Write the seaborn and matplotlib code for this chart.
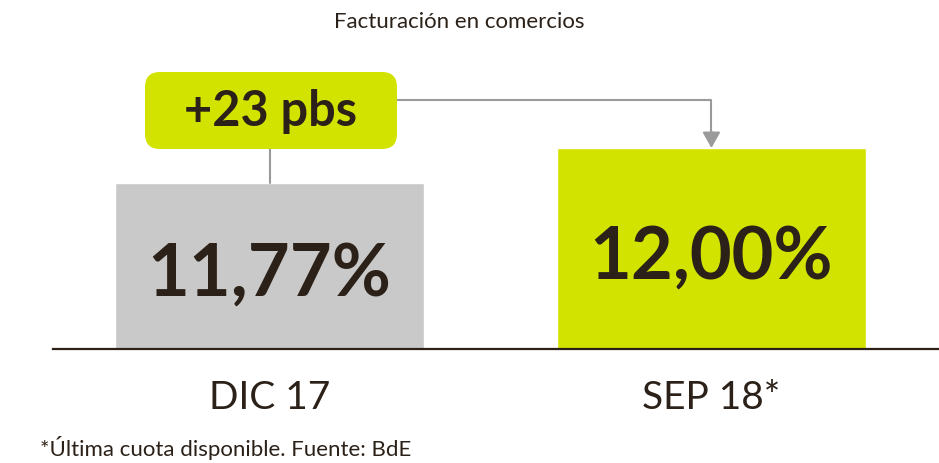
import matplotlib
matplotlib.use("Agg")
import matplotlib.pyplot as plt
import seaborn as sns
from matplotlib.patches import FancyBboxPatch

categories = ["DIC 17", "SEP 18*"]
values = [11.77, 12.00]
value_labels = ["11,77%", "12,00%"]
diff_label = "+23 pbs"
title = "Facturación en comercios"
footnote = "*Última cuota disponible. Fuente: BdE"

GRAY = "#c9c9c9"
LIME = "#d3e300"
DARK = "#2b2118"
LINE = "#9a9a9a"

sns.set_theme(style="white")
plt.rcParams["font.family"] = ["Lato", "DejaVu Sans"]

W, H = 939, 463
fig = plt.figure(figsize=(W / 100, H / 100), dpi=100)
ax = fig.add_axes([53 / W, (H - 349) / H, (W - 53) / W, 349 / H])

sns.barplot(x=categories, y=values, hue=categories, palette=[GRAY, LIME],
            width=0.7, ax=ax, legend=False, saturation=1)

ax.set_xlim(-0.49, 1.515)
ax.set_ylim(10.679, 12.973)
ax.set_yticks([])
ax.set_ylabel("")
ax.set_xlabel("")
for s in ["top", "right", "left"]:
    ax.spines[s].set_visible(False)
ax.spines["bottom"].set_color(DARK)
ax.spines["bottom"].set_linewidth(1.6)
ax.tick_params(axis="x", length=0, pad=22, labelsize=28, labelcolor=DARK)

# value labels
ymin = ax.get_ylim()[0]
for i, (v, lab) in enumerate(zip(values, value_labels)):
    ax.text(i, (v + ymin) / 2 - 0.06, lab, ha="center", va="center",
            fontsize=52, fontweight="bold", color=DARK)

# difference box (pixel layout -> data)
def py2d(py):
    return ymin + (349 - py) / 152.17

box_x1 = 0.285
box_y0 = py2d(149)
fig.patches.append(FancyBboxPatch((145 / 100, (H - 149) / 100), 2.52, 0.77,
                                  boxstyle="round,pad=0,rounding_size=0.15",
                                  transform=fig.dpi_scale_trans,
                                  facecolor=LIME, edgecolor="none", zorder=5))
fig.text(271 / W, (H - 112) / H, diff_label, ha="center", va="center",
         fontsize=35, fontweight="bold", color=DARK, zorder=6)

# connectors
y_h = py2d(100)
ax.plot([0, 0], [values[0], box_y0], color=LINE, lw=1.5, zorder=1, clip_on=False)
ax.plot([box_x1, 1, 1], [y_h, y_h, values[1] + 0.1], color=LINE, lw=1.5,
        zorder=1, clip_on=False)
ax.annotate("", xy=(1, values[1]), xytext=(1, values[1] + 0.11),
            arrowprops=dict(arrowstyle="-|>,head_length=0.8,head_width=0.45",
                            color=LINE, lw=1.5, shrinkA=0, shrinkB=0),
            annotation_clip=False)

fig.text(459 / W, (H - 22) / H, title, ha="center", va="center",
         fontsize=16, color=DARK)
fig.text(40 / W, (H - 448) / H, footnote, ha="left", va="center",
         fontsize=16, color=DARK)

fig.savefig("out.png", dpi=100)
